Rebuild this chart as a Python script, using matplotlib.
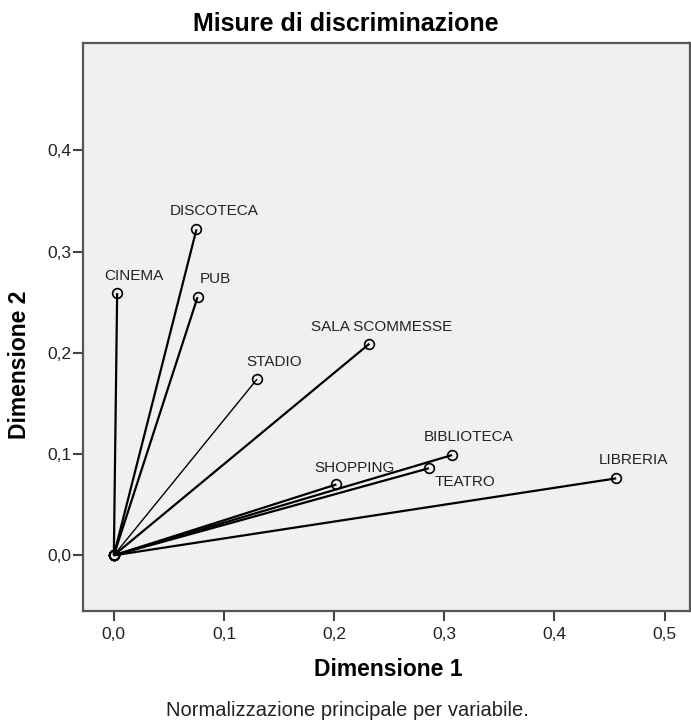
import matplotlib
matplotlib.use("Agg")
import matplotlib.pyplot as plt
from matplotlib.ticker import FuncFormatter

# Discrimination measures (Dimensione 1, Dimensione 2)
variables = ["CINEMA", "DISCOTECA", "PUB", "STADIO", "SALA SCOMMESSE",
             "BIBLIOTECA", "TEATRO", "SHOPPING", "LIBRERIA"]
dim1 = [0.003, 0.075, 0.076, 0.130, 0.232, 0.307, 0.286, 0.202, 0.456]
dim2 = [0.259, 0.322, 0.255, 0.174, 0.209, 0.099, 0.086, 0.070, 0.076]

x_ticks = [0.0, 0.1, 0.2, 0.3, 0.4, 0.5]
y_ticks = [0.0, 0.1, 0.2, 0.3, 0.4]

# label offsets in pixels (left edge of text, vertical centre)
label_offsets = {
    "CINEMA": (-13, 17), "DISCOTECA": (-27, 18), "PUB": (2, 18),
    "STADIO": (-11, 17), "SALA SCOMMESSE": (-58, 17),
    "BIBLIOTECA": (-28, 18), "TEATRO": (6, -14), "SHOPPING": (-22, 16),
    "LIBRERIA": (-17, 18),
}
line_widths = {"STADIO": 1.0}

plt.rcParams["font.family"] = ["Liberation Sans", "DejaVu Sans"]

fig = plt.figure(figsize=(6.91, 7.25), dpi=100)
ax = fig.add_axes([83 / 691, 114 / 725, 607 / 691, 568 / 725])
ax.set_facecolor("#f0f0f0")

for name, x, y in zip(variables, dim1, dim2):
    ax.plot([0, x], [0, y], color="black", lw=line_widths.get(name, 1.6),
            marker="o", markersize=7, markerfacecolor="none",
            markeredgecolor="black", markeredgewidth=1.2, solid_capstyle="butt")
    dx, dy = label_offsets[name]
    ax.annotate(name, (x, y), xytext=(dx, dy), textcoords="offset pixels",
                ha="left", va="center", fontsize=11, color="#222222")

ax.set_xlim(-0.028, 0.523)
ax.set_ylim(-0.055, 0.506)
ax.set_xticks(x_ticks)
ax.set_yticks(y_ticks)
comma = FuncFormatter(lambda v, pos: f"{v:.1f}".replace(".", ","))
ax.xaxis.set_major_formatter(comma)
ax.yaxis.set_major_formatter(comma)
ax.tick_params(direction="out", length=7.5, width=1.5, color="#444444",
               labelsize=12.5, labelcolor="#222222")
ax.tick_params(axis="x", pad=4)
ax.tick_params(axis="y", pad=1)
for side in ["left", "bottom", "top", "right"]:
    ax.spines[side].set_color("#555555")
    ax.spines[side].set_linewidth(1.6)

fig.text(0.5, 0.967, "Misure di discriminazione", ha="center", va="center",
         fontsize=18, fontweight="bold")
fig.text(388 / 691, 1 - 669 / 725, "Dimensione 1", ha="center", va="center",
         fontsize=16.5, fontweight="bold")
fig.text(20 / 691, 1 - 365 / 725, "Dimensione 2", ha="center", va="center",
         rotation=90, fontsize=16.5, fontweight="bold")
fig.text(347 / 691, 1 - 710 / 725, "Normalizzazione principale per variabile.",
         ha="center", va="center", fontsize=14.5, color="#222222")

fig.savefig("out.png", dpi=100, facecolor="white")
